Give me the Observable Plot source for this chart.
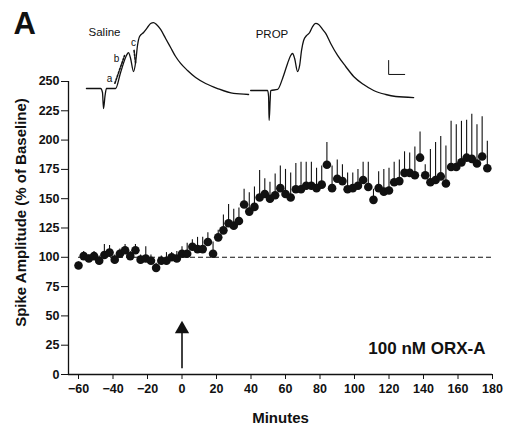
<!DOCTYPE html>
<html><head><meta charset="utf-8">
<script src="https://cdn.jsdelivr.net/npm/d3@7"></script>
<script src="https://cdn.jsdelivr.net/npm/@observablehq/plot@0.6"></script>
<style>
body{margin:0;background:#fff}
svg{font-family:"Liberation Sans",Arial,Helvetica,sans-serif}
</style>
</head><body><div id="chart"></div>
<script>
// ---- Main data: spike amplitude (% of baseline) vs minutes ----
const minutes = [-60,-57,-54,-51,-48,-45,-42,-39,-36,-33,-30,-27,-24,-21,-18,-15,-12,-9,-6,-3,
  0,3,6,9,12,15,18,21,24,27,30,33,36,39,42,45,48,51,54,57,
  60,63,66,69,72,75,78,81,84,87,90,93,96,99,102,105,108,111,114,117,
  120,123,126,129,132,135,138,141,144,147,150,153,156,159,162,165,168,171,174,177];
const amplitude = [93,101,99,101,97,102,104,98,103,106,101,106,98,99,97,91,97,97,100,99,
  103,103,109,107,107,113,103,117,123,129,127,131,145,139,143,151,154,150,153,159,
  154,151,158,158,161,161,159,162,179,159,167,165,158,159,161,166,160,149,159,156,
  157,164,165,172,172,170,185,170,164,166,169,163,177,177,181,185,184,180,186,176];
const sem = [3,4,3,4,4,9,6,4,4,5,4,5,4,10,5,4,4,7,4,6,
  6,9,6,10,10,8,10,6,13,16,14,11,13,16,17,23,13,14,18,19,
  21,21,22,23,20,20,17,16,19,19,16,14,14,13,14,15,21,9,14,19,
  19,17,18,18,17,24,22,9,28,32,34,32,39,36,35,32,38,33,34,23];

const xTicks = [-60,-40,-20,0,20,40,60,80,100,120,140,160,180];
const yTicks = [0,25,50,75,100,125,150,175,200,225,250];
const baselineLevel = 100;
const drugTime = 0;
const drugLabel = "100 nM ORX-A";

// ---- Inset traces (drawn in chart units) ----
const salineT = [-55.4,-47.2,-46.1,-45.5,-44.6,-43.8,-38.5,-35.6,-32.2,-31.0,-29.8,-28.1,-26.9,-25.8,-24.6,-22.3,-20.0,-18.2,-16.5,-14.8,-12.4,-9.5,-6.6,-3.7,-0.8,3.2,7.9,13.7,20.6,29.9,38.6];
const salineV = [244.0,244.0,240.6,226.9,238.1,244.0,244.0,257.7,272.2,274.7,269.6,258.5,266.2,280.7,288.4,291.8,296.1,299.5,300.3,298.6,294.4,286.7,279.0,271.3,265.4,259.4,253.4,248.3,244.0,239.8,238.9];
const propT = [39.8,49.6,50.2,50.5,51.1,51.4,55.4,58.3,61.2,63.0,64.1,65.3,67.0,68.2,69.3,70.5,72.3,74.0,75.7,77.5,79.2,81.5,83.3,86.2,90.2,94.9,99.5,105.3,111.1,118.1,123.9,134.3];
const propV = [242.3,242.3,237.2,216.7,233.8,242.3,243.2,252.6,265.4,272.2,273.9,269.6,258.5,263.7,276.5,285.0,289.3,291.8,296.9,299.5,298.6,294.4,291.0,282.4,272.2,262.8,254.3,247.4,242.3,238.9,237.2,236.3];
const dashAbT = [-38.9,-33.3], dashAbV = [248.5,272.2];
const dashCT = [-27.8,-26.9], dashCV = [276.5,265.4];
const scaleBarT = [119.8,119.8,129.1], scaleBarV = [267.9,256.0,256.0];
const insetLabels = ["Saline","PROP"];
const insetLabelT = [-54.2,42.7], insetLabelV = [289.2,286.7];
const phaseLabels = ["a","b","c"];
const phaseT = [-42.0,-38.0,-28.1], phaseV = [252.1,269.6,283.3];

const data = minutes.map((t,i)=>({t, v: amplitude[i], top: amplitude[i]+sem[i]}));
const pts = (T,V)=>T.map((t,i)=>({t, v: V[i]}));

const xDomain = [-65.8, 180];
const ink = "#111";

const chart = Plot.plot({
  width: 507, height: 430,
  marginLeft: 68, marginRight: 15, marginTop: 0, marginBottom: 56,
  x: {domain: xDomain},
  y: {domain: [0, 319.1]},
  style: {fontFamily: '"Liberation Sans", Arial, sans-serif', color: ink, background: "#fff"},
  marks: [
    Plot.axisX({ticks: xTicks, tickSize: 5, tickPadding: 5, label: null, fontSize: 12.5, fontWeight: "bold"}),
    Plot.axisY({ticks: yTicks, tickSize: 7, tickPadding: 2, label: null, fontSize: 12.5, fontWeight: "bold"}),
    Plot.ruleY([0], {stroke: ink, strokeWidth: 1.3}),
    Plot.ruleX([xDomain[0]], {y1: 0, y2: yTicks[yTicks.length-1], stroke: ink, strokeWidth: 1.3}),
    // baseline dashed
    Plot.ruleY([baselineLevel], {x1: minutes[0], x2: 180, stroke: ink, strokeWidth: 1.1, strokeDasharray: "5,3"}),
    // error bars (upper SEM)
    Plot.ruleX(data, {x: "t", y1: "v", y2: "top", stroke: ink, strokeWidth: 1.1}),
    Plot.dot(data, {x: "t", y: "v", r: 4.3, fill: ink, stroke: null}),
    // drug application arrow
    Plot.ruleX([drugTime], {y1: 5, y2: 37, stroke: ink, strokeWidth: 1.6}),
    Plot.dot([drugTime], {x: d=>d, y: 38.8, symbol: "triangle", r: 5.3, fill: ink, stroke: null}),
    Plot.text([drugLabel], {frameAnchor: "bottom-right", dx: -7, dy: -21, textAnchor: "end", lineAnchor: "bottom", fontSize: 17, fontWeight: "bold", fill: ink}),
    // inset traces
    Plot.line(pts(salineT, salineV), {x: "t", y: "v", stroke: ink, strokeWidth: 1.3, curve: "monotone-x"}),
    Plot.line(pts(propT, propV), {x: "t", y: "v", stroke: ink, strokeWidth: 1.3, curve: "monotone-x"}),
    Plot.line(pts(dashAbT, dashAbV), {x: "t", y: "v", stroke: ink, strokeWidth: 1.6, strokeDasharray: "2,1.5"}),
    Plot.line(pts(dashCT, dashCV), {x: "t", y: "v", stroke: ink, strokeWidth: 1.6, strokeDasharray: "2,1.5"}),
    Plot.line(pts(scaleBarT, scaleBarV), {x: "t", y: "v", stroke: ink, strokeWidth: 1}),
    Plot.text(insetLabels, {x: (d,i)=>insetLabelT[i], y: (d,i)=>insetLabelV[i], text: d=>d, textAnchor: "start", lineAnchor: "bottom", fontSize: 11.5, fill: ink}),
    Plot.text(phaseLabels, {x: (d,i)=>phaseT[i], y: (d,i)=>phaseV[i], text: d=>d, textAnchor: "middle", lineAnchor: "middle", fontSize: 10, fill: ink}),
    // panel letter & axis titles
    Plot.text(["A"], {frameAnchor: "top-left", dx: -55, dy: 11, textAnchor: "start", lineAnchor: "top", fontSize: 31, fontWeight: "bold", fill: ink}),
    Plot.text(["Minutes"], {frameAnchor: "bottom", dy: 48, lineAnchor: "bottom", fontSize: 15, fontWeight: "bold", fill: ink}),
    Plot.text(["Spike Amplitude (% of Baseline)"], {frameAnchor: "left", dx: -47, dy: 25, rotate: -90, textAnchor: "middle", lineAnchor: "middle", fontSize: 15, fontWeight: "bold", fill: ink})
  ]
});
document.getElementById("chart").appendChild(chart);
</script>
</body></html>
